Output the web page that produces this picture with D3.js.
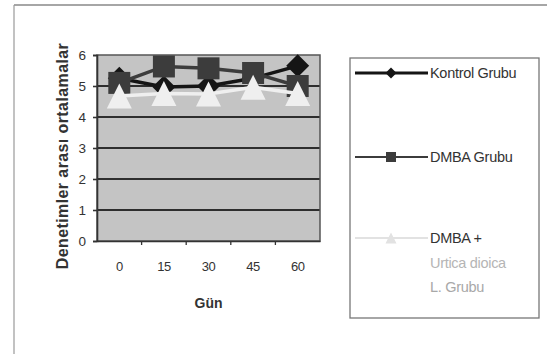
<!DOCTYPE html>
<html>
<head>
<meta charset="utf-8">
<script src="https://cdn.jsdelivr.net/npm/d3@7"></script>
<style>
  html, body { margin: 0; padding: 0; background: #fff; }
  svg { display: block; font-family: "Liberation Sans", Arial, sans-serif; }
</style>
</head>
<body>
<svg id="chart" width="547" height="354"></svg>
<script>
// Days of measurement (x categories)
const days = ["0", "15", "30", "45", "60"];
// Group means per day
const kontrol = [5.25, 4.97, 5.0, 5.25, 5.65];
const dmba = [5.1, 5.63, 5.57, 5.42, 5.0];
const dmbaUrtica = [4.68, 4.76, 4.74, 4.96, 4.76];
// Y axis tick values
const yTicks = [0, 1, 2, 3, 4, 5, 6];

const series = [
  { name: "Kontrol Grubu", values: kontrol, color: "#151515", marker: "diamond" },
  { name: "DMBA Grubu", values: dmba, color: "#3c3c3c", marker: "square" },
  { name: "DMBA + Urtica dioica L. Grubu", values: dmbaUrtica, color: "#efefef", marker: "triangle" }
];

// marker shapes sized by their bounding box (size = box side in px)
const boxDiamond = { draw(ctx, s) { const r = s / 2; ctx.moveTo(0, -r); ctx.lineTo(r, 0); ctx.lineTo(0, r); ctx.lineTo(-r, 0); ctx.closePath(); } };
const boxSquare = { draw(ctx, s) { const r = s / 2; ctx.rect(-r, -r, s, s); } };
const boxTriangle = { draw(ctx, s) { const r = s / 2; ctx.moveTo(0, -r); ctx.lineTo(r, r); ctx.lineTo(-r, r); ctx.closePath(); } };

const svg = d3.select("#chart");

// outer chart frame
svg.append("line").attr("x1", 14).attr("y1", 5).attr("x2", 547).attr("y2", 5)
  .attr("stroke", "#888").attr("stroke-width", 1.5);
svg.append("line").attr("x1", 14).attr("y1", 5).attr("x2", 14).attr("y2", 354)
  .attr("stroke", "#999").attr("stroke-width", 1.2);

const plot = { left: 97, right: 320, top: 55, bottom: 241 };

const x = d3.scaleBand().domain(days).range([plot.left, plot.right]);
const y = d3.scaleLinear().domain([0, 6]).range([plot.bottom, plot.top]);

// plot background
svg.append("rect")
  .attr("x", plot.left).attr("y", plot.top)
  .attr("width", plot.right - plot.left).attr("height", plot.bottom - plot.top)
  .attr("fill", "#c4c4c4");

// horizontal gridlines
svg.append("g")
  .selectAll("line")
  .data(yTicks.filter(d => d > 0 && d < 6))
  .join("line")
  .attr("x1", plot.left).attr("x2", plot.right)
  .attr("y1", d => y(d)).attr("y2", d => y(d))
  .attr("stroke", "#2e2e2e").attr("stroke-width", 1.8);

// plot border
svg.append("rect")
  .attr("x", plot.left).attr("y", plot.top)
  .attr("width", plot.right - plot.left).attr("height", plot.bottom - plot.top)
  .attr("fill", "none").attr("stroke", "#555").attr("stroke-width", 1.5);

// y axis
const yAxis = svg.append("g")
  .attr("transform", `translate(${plot.left},0)`)
  .call(d3.axisLeft(y).tickValues(yTicks).tickSize(4).tickPadding(7).tickFormat(d3.format("d")));
yAxis.select(".domain").attr("stroke", "#333").attr("stroke-width", 1.6);
yAxis.selectAll(".tick line").attr("stroke", "#333").attr("stroke-width", 1.6);
yAxis.selectAll("text").attr("font-size", 13.5).attr("fill", "#333")
  .attr("font-family", "Liberation Sans, Arial, sans-serif");

// x axis: category labels centred, tick marks on band edges
const xAxis = svg.append("g")
  .attr("transform", `translate(0,${plot.bottom})`)
  .call(d3.axisBottom(x).tickSize(0).tickPadding(21));
xAxis.select(".domain").attr("stroke", "#333").attr("stroke-width", 1.6);
xAxis.selectAll("text").attr("font-size", 13).attr("fill", "#333")
  .attr("letter-spacing", -0.5)
  .attr("font-family", "Liberation Sans, Arial, sans-serif");
svg.append("g")
  .selectAll("line")
  .data(days.slice(1))
  .join("line")
  .attr("x1", d => x(d)).attr("x2", d => x(d))
  .attr("y1", plot.bottom).attr("y2", plot.bottom + 4)
  .attr("stroke", "#333").attr("stroke-width", 1.3);

// axis titles
svg.append("text")
  .attr("x", x("30") + x.bandwidth() / 2).attr("y", 308)
  .attr("text-anchor", "middle").attr("font-size", 14).attr("font-weight", "bold")
  .attr("fill", "#333").text("Gün");
svg.append("text")
  .attr("transform", "translate(68,156) rotate(-90)")
  .attr("text-anchor", "middle").attr("font-size", 16).attr("font-weight", "bold")
  .attr("letter-spacing", 0.4)
  .attr("fill", "#333").text("Denetimler arası ortalamalar");

const symbolFor = {
  diamond: d3.symbol().type(boxDiamond).size(23),
  square: d3.symbol().type(boxSquare).size(22),
  triangle: d3.symbol().type(boxTriangle).size(25)
};

const line = d3.line()
  .x((d, i) => x(days[i]) + x.bandwidth() / 2)
  .y(d => y(d));

// series are stacked in order: control, DMBA, then DMBA + Urtica on top
series.forEach(s => {
  const g = svg.append("g");
  g.append("path")
    .datum(s.values)
    .attr("d", line)
    .attr("fill", "none")
    .attr("stroke", s.color)
    .attr("stroke-width", 3.5);
  g.selectAll("path.m")
    .data(s.values)
    .join("path")
    .attr("class", "m")
    .attr("transform", (d, i) => `translate(${x(days[i]) + x.bandwidth() / 2},${y(d)})`)
    .attr("d", symbolFor[s.marker])
    .attr("fill", s.color);
});

// legend
const legend = svg.append("g");
legend.append("rect")
  .attr("x", 350).attr("y", 58).attr("width", 189).attr("height", 260)
  .attr("fill", "#fff").attr("stroke", "#777").attr("stroke-width", 1.3);

const legendRows = [
  { s: series[0], y: 73, lines: ["Kontrol Grubu"], colors: ["#333"] },
  { s: series[1], y: 157, lines: ["DMBA Grubu"], colors: ["#333"] },
  { s: series[2], y: 238, lines: ["DMBA +", "Urtica dioica", "L. Grubu"], colors: ["#333", "#b5b5b5", "#a8a8a8"] }
];
const legendSymbol = {
  diamond: d3.symbol().type(boxDiamond).size(11),
  square: d3.symbol().type(boxSquare).size(10),
  triangle: d3.symbol().type(boxTriangle).size(11)
};
legendRows.forEach(r => {
  legend.append("line")
    .attr("x1", 355).attr("x2", 428).attr("y1", r.y).attr("y2", r.y)
    .attr("stroke", r.s.marker === "triangle" ? "#e2e2e2" : r.s.color)
    .attr("stroke-width", r.s.marker === "diamond" ? 3 : 2.2);
  legend.append("path")
    .attr("transform", `translate(391,${r.y})`)
    .attr("d", legendSymbol[r.s.marker])
    .attr("fill", r.s.marker === "triangle" ? "#e2e2e2" : r.s.color);
  r.lines.forEach((t, k) => {
    legend.append("text")
      .attr("x", 430).attr("y", r.y + 5 + k * 24.5)
      .attr("font-size", 14.5).attr("letter-spacing", -0.3)
      .attr("fill", r.colors[k]).text(t);
  });
});
</script>
</body>
</html>
